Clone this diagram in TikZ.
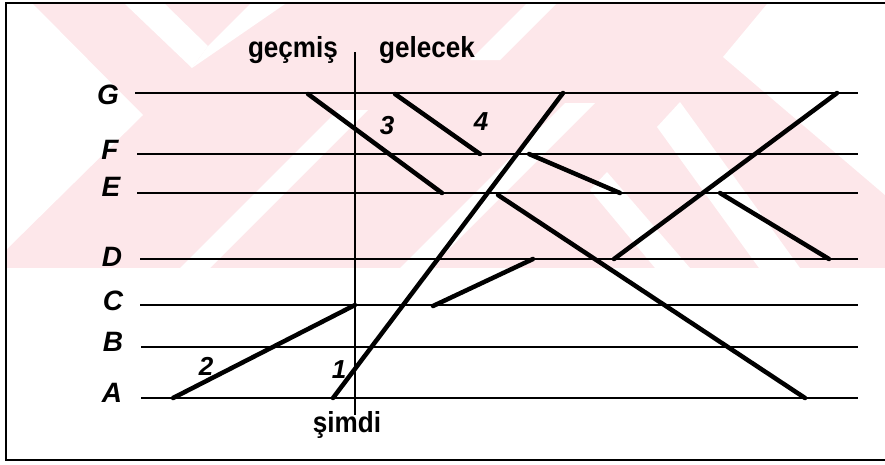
\documentclass[tikz,border=0pt]{standalone}
\usepackage{fontspec}
\setmainfont{Liberation Sans}
\newfontfamily\condfont[FakeStretch=0.9]{Liberation Sans}
\definecolor{wm}{RGB}{253,231,234}
\tikzset{
  hline/.style={line width=1.8pt},
  world/.style={line width=4.5pt, line cap=round},
  frame/.style={line width=2pt},
  lbl/.style={inner sep=0pt, font=\bfseries\itshape\fontsize{28}{28}\selectfont},
  num/.style={inner sep=0pt, font=\bfseries\itshape\fontsize{26}{26}\selectfont},
  word/.style={inner sep=0pt, anchor=base, font=\condfont\bfseries\fontsize{29}{29}\selectfont}
}
\begin{document}
\begin{tikzpicture}[x=1pt,y=-1pt]
\useasboundingbox (0,0) rectangle (885,464);
\fill[white] (0,0) rectangle (885,464);
% watermark
\begin{scope}
\clip (6,4) rectangle (885,268);
\fill[wm] (6,4) rectangle (885,268);
\fill[white] (6,4) -- (33,4) -- (143,115) -- (6,250) -- cycle;
\fill[white] (125,4) -- (165,4) -- (208,46) -- (192,68) -- cycle;
\fill[white] (192,68) -- (208,46) -- (250,4) -- (285,4) -- cycle;
\fill[white] (180,268) -- (210,268) -- (368,110) -- (338,110) -- cycle;
\fill[white] (400,268) -- (430,268) -- (595,103) -- (565,103) -- cycle;
\fill[white] (470,60) -- (500,60) -- (556,4) -- (526,4) -- cycle;
\fill[white] (723,57) -- (767,4) -- (885,4) -- (885,195) -- cycle;
\fill[white] (657,127) -- (680,102) -- (800,268) -- (759,268) -- cycle;
\fill[white] (590,190) -- (607,172) -- (690,268) -- (655,268) -- cycle;
\end{scope}
% frame
\draw[frame] (885,3) -- (6,3) -- (6,460) -- (885,460);
% coordinates
\foreach \n/\y/\xs in {G/93/135,F/154/137,E/193/137,D/259/140,C/305/140,B/347/141,A/398/141}{
  \coordinate (\n0) at (\xs,\y);
  \coordinate (\n1) at (858,\y);
}
\foreach \n/\y/\xs in {G/93/135,F/154/137,E/193/137,D/259/140,C/305/140,B/347/141,A/398/141}{
  \draw[hline] (\n0) -- (\n1);
}
% axis
\coordinate (vtop) at (355,52);
\coordinate (vbot) at (355,415);
\draw[hline] (vtop) -- (vbot);
% letter labels
\node[lbl] (lG) at (108,95) {G};
\node[lbl] (lF) at (110,150) {F};
\node[lbl] (lE) at (111,187) {E};
\node[lbl] (lD) at (112,257) {D};
\node[lbl] (lC) at (113,301) {C};
\node[lbl] (lB) at (113,342) {B};
\node[lbl] (lA) at (112,393) {A};
% words
\node[word] (past) at (293,57) {geçmiş};
\node[word] (future) at (427,57) {gelecek};
\node[word] (now) at (347,432) {şimdi};
% world lines
\coordinate (p3a) at (308,94);  \coordinate (p3b) at (442,193);
\coordinate (p4a) at (395,94);  \coordinate (p4b) at (480,154);
\coordinate (p1a) at (333,398); \coordinate (p1b) at (563,93);
\coordinate (p2a) at (173,398); \coordinate (p2b) at (355,305);
\coordinate (pca) at (433,306); \coordinate (pcb) at (533,259);
\coordinate (pfa) at (529,154); \coordinate (pfb) at (620,193);
\coordinate (pga) at (498,195); \coordinate (pgb) at (805,398);
\coordinate (pra) at (614,259); \coordinate (prb) at (837,93);
\coordinate (pea) at (720,193); \coordinate (peb) at (829,259);
\draw[world] (p3a) -- (p3b);
\draw[world] (p4a) -- (p4b);
\draw[world] (p1a) -- (p1b);
\draw[world] (p2a) -- (p2b);
\draw[world] (pca) -- (pcb);
\draw[world] (pfa) -- (pfb);
\draw[world] (pga) -- (pgb);
\draw[world] (pra) -- (prb);
\draw[world] (pea) -- (peb);
% numbers
\node[num] (n1) at (339,370) {1};
\node[num] (n2) at (206,366) {2};
\node[num] (n3) at (387,126) {3};
\node[num] (n4) at (481,122) {4};
\end{tikzpicture}
\end{document}
